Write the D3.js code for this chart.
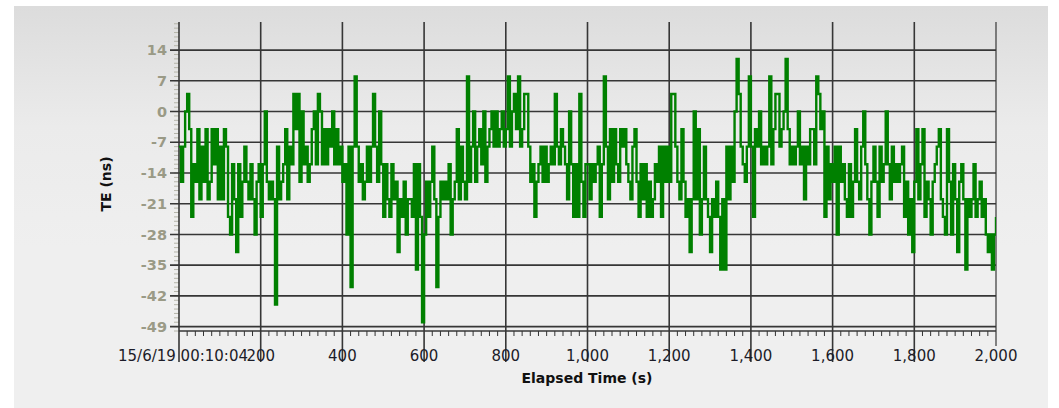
<!DOCTYPE html>
<html>
<head>
<meta charset="utf-8">
<script src="https://cdn.jsdelivr.net/npm/d3@7/dist/d3.min.js"></script>
<style>
  html, body { margin: 0; padding: 0; background: #ffffff; }
  svg { display: block; }
</style>
</head>
<body>
<svg id="chart" width="1059" height="408"></svg>
<script>
// Time error samples (ns), one every sampleStepSec seconds from 0 to 2000 s
const sampleStepSec = 5;
const teNs = [
  // 0 - 335 s
  -8, -16, -8, 0, 4, -4, -24, -12, -16, -4,
  -20, -8, -16, -4, -20, -16, -4, -12, -4, -20,
  -8, -20, -4, -8, -24, -28, -12, -20, -32, -12,
  -24, -16, -8, -16, -20, -12, -20, -28, -16, -12,
  -24, -12, 0, -16, -20, -16, -20, -44, -8, -20,
  -16, -12, -4, -20, -8, -12, 4, -4, 4, -16,
  0, -12, -8, -16, -12, -4, 0, -12,
  // 340 - 665 s
  4, 0, -12, -4, -12, -4, -8, 0, -12, -4,
  -12, -8, -16, -12, -28, -8, -40, -8, 8, -8,
  -16, -12, -20, -16, -8, -16, -8, 4, -8, -16,
  0, -12, -24, -12, -20, -24, -12, -20, -16, -32,
  -20, -24, -16, -28, -20, -20, -24, -12, -36, -12,
  -24, -48, -28, -16, -24, -16, -8, -20, -40, -24,
  -16, -20, -16, -20, -12, -28,
  // 670 - 995 s
  -20, -16, -4, -20, -8, -16, -20, 8, -16, -8,
  0, -16, -8, -4, -12, 0, -16, -8, -4, 0,
  -8, 0, -8, -4, 0, -8, -4, 8, -8, 0,
  4, -4, 8, -8, -4, 4, 4, -8, -16, -12,
  -24, -16, -12, -8, -16, -8, -16, -12, -8, -12,
  4, -8, -12, -4, -8, -12, -20, 0, -12, -24,
  -12, -24, 4, -16, -24, -12,
  // 1000 - 1325 s
  -12, -20, -12, -16, -12, -8, -24, -12, 8, -8,
  -20, -4, -16, -4, -12, -16, -4, -8, -4, -12,
  -16, -20, -8, -4, -16, -24, -12, -20, -12, -24,
  -16, -24, -20, -12, -16, -8, -24, -8, -16, -8,
  -16, 4, 4, -8, -16, -20, -4, -16, -24, -20,
  -32, -20, 0, -20, -4, -28, -20, -8, -20, -24,
  -32, -20, -24, -16, -24, -36,
  // 1330 - 1660 s
  -20, -36, -8, -20, -8, -16, 0, 12, 4, -8,
  -12, -16, -8, 8, -8, -24, -4, -8, 0, -12,
  -8, -12, -8, 8, -12, -4, 4, 4, -8, -4,
  0, 12, -4, -12, -8, -12, -8, 0, -12, -8,
  -20, -8, -12, -4, -4, -12, 8, 4, -4, 0,
  -24, -8, -20, -12, -16, -8, -28, -8, -16, -12,
  -20, -24, -12, -24, -16, -4, -16,
  // 1665 - 2000 s
  -20, -8, 0, -12, -20, -28, -16, -8, -16, -24,
  -8, -16, -12, 0, -12, -20, -8, -16, -12, -16,
  -12, -8, -24, -16, -28, -20, -32, -16, -4, -20,
  -12, -4, -24, -16, -20, -28, -16, -12, -8, -4,
  -20, -24, -28, -4, -16, -28, -12, -20, -32, -16,
  -12, -20, -36, -20, -24, -20, -12, -24, -20, -16,
  -24, -20, -28, -32, -28, -36, -28, -24
];

const yTicks = [-49, -42, -35, -28, -21, -14, -7, 0, 7, 14];
const xTicks = [0, 200, 400, 600, 800, 1000, 1200, 1400, 1600, 1800, 2000];
const xTickLabels = ["15/6/19 00:10:04", "200", "400", "600", "800", "1,000",
                     "1,200", "1,400", "1,600", "1,800", "2,000"];
const yTitle = "TE (ns)";
const xTitle = "Elapsed Time (s)";

const svg = d3.select("#chart");
const plot = { left: 179, right: 996, top: 22, bottom: 331 };

const x = d3.scaleLinear().domain([0, 2000]).range([plot.left, plot.right]);
const y = d3.scaleLinear().domain([-50, 20.4]).range([plot.bottom, plot.top]);

// panel background
const defs = svg.append("defs");
const grad = defs.append("linearGradient")
  .attr("id", "panelGrad").attr("x1", 0).attr("y1", 0).attr("x2", 0).attr("y2", 1);
grad.append("stop").attr("offset", "0%").attr("stop-color", "#dcdcdc");
grad.append("stop").attr("offset", "30%").attr("stop-color", "#ebebeb");
grad.append("stop").attr("offset", "60%").attr("stop-color", "#efefef");
grad.append("stop").attr("offset", "100%").attr("stop-color", "#efefef");
svg.append("rect").attr("x", 14).attr("y", 6).attr("width", 1034).attr("height", 402)
  .attr("fill", "url(#panelGrad)");

defs.append("clipPath").attr("id", "plotClip").append("rect")
  .attr("x", plot.left).attr("y", plot.top)
  .attr("width", plot.right - plot.left).attr("height", plot.bottom - plot.top);

const gridColor = "#363636";

// y minor ticks (every 1 ns)
const gY = svg.append("g");
gY.selectAll("line.minor").data(d3.range(-50, 21, 1)).join("line")
  .attr("x1", plot.left - 5).attr("x2", plot.left)
  .attr("y1", d => y(d)).attr("y2", d => y(d))
  .attr("stroke", "#b4b4a8").attr("stroke-width", 1);

// horizontal grid lines + major ticks
gY.selectAll("line.grid").data(yTicks).join("line")
  .attr("x1", plot.left - 9).attr("x2", plot.right)
  .attr("y1", d => y(d)).attr("y2", d => y(d))
  .attr("stroke", gridColor).attr("stroke-width", 1.6);

gY.selectAll("text").data(yTicks).join("text")
  .attr("x", plot.left - 12).attr("y", d => y(d))
  .attr("dy", "0.36em").attr("text-anchor", "end")
  .attr("font-family", "DejaVu Sans, Verdana, sans-serif")
  .attr("font-size", 14.5).attr("font-weight", "bold")
  .attr("fill", "#9a9a86")
  .text(d => d);

// x axis line
svg.append("line")
  .attr("x1", plot.left).attr("x2", plot.right)
  .attr("y1", plot.bottom).attr("y2", plot.bottom)
  .attr("stroke", gridColor).attr("stroke-width", 1.6);

// x minor ticks (every 20 s)
svg.append("g").selectAll("line")
  .data(d3.range(20, 2000, 20).filter(d => d % 200 !== 0)).join("line")
  .attr("x1", d => x(d)).attr("x2", d => x(d))
  .attr("y1", plot.bottom).attr("y2", plot.bottom + 5)
  .attr("stroke", "#333").attr("stroke-width", 1);

// vertical grid lines extending into the tick area
svg.append("g").selectAll("line").data(xTicks).join("line")
  .attr("x1", d => x(d)).attr("x2", d => x(d))
  .attr("y1", plot.top).attr("y2", d => d === 2000 ? 346 : 362)
  .attr("stroke", gridColor).attr("stroke-width", d => d === 2000 ? 1.2 : 1.6);

// series, held between samples
svg.append("path")
  .datum(teNs)
  .attr("clip-path", "url(#plotClip)")
  .attr("fill", "none")
  .attr("stroke", "#008000")
  .attr("stroke-width", 2.4)
  .attr("d", d3.line().curve(d3.curveStepAfter)
    .x((d, i) => x(i * sampleStepSec)).y(d => y(d)));

// x tick labels
svg.append("g").selectAll("text").data(xTicks).join("text")
  .attr("x", d => d === 0 ? x(d) + 4 : x(d)).attr("y", 356)
  .attr("dy", "0.36em").attr("text-anchor", "middle")
  .attr("font-family", "DejaVu Sans, Verdana, sans-serif")
  .attr("font-size", 15)
  .attr("fill", "#1c1c28")
  .text((d, i) => xTickLabels[i]);

// axis titles
svg.append("text")
  .attr("transform", "translate(106,184) rotate(-90)")
  .attr("text-anchor", "middle").attr("dy", "0.36em")
  .attr("font-family", "DejaVu Sans, Verdana, sans-serif")
  .attr("font-size", 14).attr("font-weight", "bold")
  .attr("fill", "#111").text(yTitle);

svg.append("text")
  .attr("x", 587).attr("y", 378)
  .attr("text-anchor", "middle").attr("dy", "0.36em")
  .attr("font-family", "DejaVu Sans, Verdana, sans-serif")
  .attr("font-size", 14).attr("font-weight", "bold")
  .attr("fill", "#111").text(xTitle);
</script>
</body>
</html>
